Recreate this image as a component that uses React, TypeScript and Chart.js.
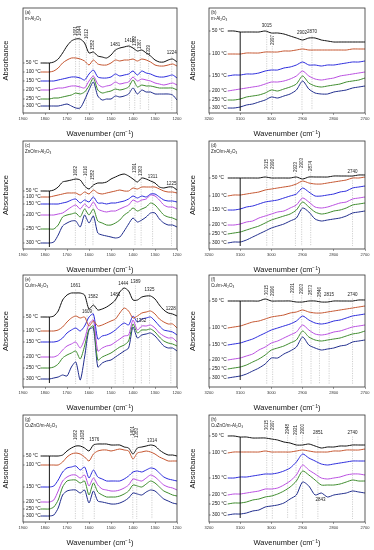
import React, { useEffect, useRef } from "react";
import { Chart, registerables } from "chart.js";
Chart.register(...registerables);

const FAMILY = 'Arial, "Liberation Sans", Helvetica, sans-serif';

// ---------- data ----------
const temps = ["50 °C", "100 °C", "150 °C", "200 °C", "250 °C", "300 °C"];
const colors = ["#111111", "#c4552f", "#2b2bdc", "#b94ee0", "#3d8b2c", "#1f2c8c"];

const wnLow = [1820, 1800, 1780, 1760, 1740, 1720, 1700, 1680, 1660, 1640, 1620, 1600, 1580, 1560, 1540, 1520,
  1500, 1480, 1460, 1440, 1420, 1400, 1380, 1360, 1340, 1320, 1300, 1280, 1260, 1240, 1220, 1200];
const wnHigh = [3140, 3120, 3100, 3080, 3060, 3040, 3020, 3000, 2980, 2960, 2940, 2920, 2900, 2880, 2860, 2840,
  2820, 2800, 2780, 2760, 2740, 2720, 2700];

const seriesA = [
  [50, 50, 50, 51, 54, 60, 67, 72, 74, 74, 70, 60, 61, 57, 56, 55, 58, 63, 65, 66, 67, 65, 62, 63, 60, 57, 53, 51, 51, 53, 54, 51],
  [41, 41, 41, 42, 45, 50, 53, 55, 55, 54, 52, 48, 53, 49, 48, 48, 50, 53, 52, 53, 53, 54, 52, 54, 53, 51, 48, 47, 47, 48, 49, 47],
  [32, 32, 32, 32, 33, 34, 35, 36, 36, 35, 33, 39, 43, 36, 35, 35, 36, 39, 37, 38, 39, 42, 38, 42, 40, 39, 37, 36, 36, 37, 38, 35],
  [23, 23, 23, 24, 25, 25, 26, 27, 27, 26, 25, 32, 37, 29, 26, 27, 28, 31, 29, 30, 31, 36, 32, 34, 33, 32, 30, 29, 28, 29, 30, 28],
  [14, 14, 14, 15, 15, 16, 17, 18, 20, 19, 21, 27, 35, 23, 20, 21, 22, 24, 23, 24, 26, 33, 26, 28, 27, 27, 26, 25, 25, 25, 25, 23],
  [7, 7, 7, 7, 7, 8, 9, 7, 5, 5, 13, 23, 31, 17, 13, 14, 14, 17, 16, 17, 19, 25, 19, 23, 21, 21, 19, 19, 19, 19, 18, 13],
];
const seriesB = [
  [82, 82, 81, 81, 81, 81, 82, 80, 80, 79, 77, 75, 73, 75, 75, 73, 72, 71, 71, 71, 71, 71, 71],
  [59, 59, 59, 60, 60, 60, 61, 61, 61, 62, 62, 63, 64, 63, 63, 63, 63, 63, 63, 63, 64, 64, 64],
  [37, 38, 38, 39, 39, 40, 42, 43, 43, 45, 46, 48, 51, 48, 48, 47, 48, 48, 49, 50, 51, 51, 52],
  [22, 23, 24, 25, 26, 27, 29, 31, 31, 32, 34, 37, 42, 37, 34, 33, 34, 35, 37, 38, 39, 40, 41],
  [13, 13, 14, 16, 17, 18, 20, 23, 22, 24, 26, 29, 37, 30, 27, 26, 27, 28, 29, 31, 32, 33, 35],
  [5, 5, 6, 8, 9, 11, 13, 16, 15, 17, 19, 23, 32, 24, 20, 19, 19, 21, 22, 23, 25, 26, 27],
];
const seriesC = [
  [58, 58, 58, 59, 62, 67, 68, 69, 70, 69, 63, 60, 64, 66, 66, 67, 70, 72, 74, 75, 73, 70, 67, 71, 70, 68, 66, 62, 61, 62, 62, 59],
  [52, 52, 52, 53, 54, 55, 56, 56, 56, 54, 57, 55, 59, 56, 55, 56, 57, 58, 59, 58, 58, 61, 60, 62, 62, 62, 62, 60, 58, 57, 57, 56],
  [45, 45, 45, 45, 45, 46, 47, 49, 50, 46, 49, 47, 52, 46, 46, 45, 46, 46, 47, 48, 50, 53, 51, 53, 52, 55, 55, 52, 49, 48, 48, 47],
  [34, 34, 34, 34, 35, 36, 39, 42, 44, 40, 45, 41, 47, 40, 38, 37, 38, 38, 40, 42, 44, 49, 47, 49, 50, 54, 53, 49, 44, 42, 42, 40],
  [20, 20, 20, 20, 24, 32, 34, 35, 36, 32, 40, 34, 40, 28, 26, 24, 24, 26, 29, 34, 37, 41, 38, 40, 42, 46, 44, 39, 34, 32, 31, 29],
  [6, 6, 6, 7, 14, 23, 26, 28, 28, 22, 34, 26, 33, 16, 14, 13, 12, 11, 12, 18, 25, 31, 27, 29, 32, 36, 36, 30, 26, 24, 24, 22],
];
const seriesD = [
  [71, 71, 71, 71, 71, 71, 72, 71, 71, 71, 71, 72, 70, 72, 72, 72, 72, 73, 73, 73, 73, 74, 74],
  [53, 54, 54, 55, 56, 57, 59, 60, 61, 62, 63, 65, 68, 66, 65, 65, 66, 67, 68, 69, 71, 71, 72],
  [39, 39, 40, 42, 43, 45, 47, 48, 49, 51, 53, 55, 61, 57, 53, 53, 54, 55, 57, 58, 61, 62, 63],
  [24, 24, 25, 27, 28, 31, 33, 35, 37, 38, 41, 44, 51, 47, 42, 41, 42, 44, 46, 47, 50, 51, 52],
  [15, 16, 17, 19, 21, 23, 26, 29, 31, 33, 35, 39, 47, 42, 37, 35, 36, 38, 39, 41, 44, 45, 46],
  [6, 7, 7, 9, 12, 15, 18, 21, 23, 25, 28, 31, 41, 37, 30, 28, 29, 30, 31, 33, 36, 37, 38],
];
const seriesE = [
  [70, 70, 70, 71, 76, 87, 92, 94, 94, 94, 92, 78, 82, 77, 78, 80, 83, 87, 95, 99, 96, 87, 87, 90, 91, 91, 88, 82, 77, 74, 73, 71],
  [56, 56, 56, 56, 57, 60, 65, 69, 71, 69, 70, 61, 66, 61, 62, 64, 66, 68, 74, 79, 76, 69, 71, 74, 75, 76, 73, 68, 65, 63, 63, 59],
  [45, 45, 45, 45, 46, 49, 54, 57, 59, 56, 61, 70, 73, 48, 51, 52, 54, 57, 61, 64, 62, 71, 65, 68, 69, 70, 66, 61, 57, 56, 55, 52],
  [30, 30, 30, 30, 32, 37, 41, 43, 45, 39, 48, 63, 67, 36, 39, 41, 42, 45, 48, 51, 52, 67, 57, 61, 61, 62, 59, 54, 51, 49, 49, 45],
  [19, 19, 19, 20, 23, 29, 32, 34, 36, 28, 41, 58, 61, 27, 30, 32, 34, 37, 40, 42, 46, 63, 54, 57, 57, 58, 55, 50, 46, 44, 43, 41],
  [8, 8, 8, 9, 10, 12, 11, 20, 25, 7, 30, 57, 59, 20, 24, 26, 27, 30, 33, 36, 39, 60, 49, 52, 53, 54, 51, 46, 41, 39, 39, 36],
];
const seriesF = [
  [86, 86, 86, 86, 86, 86, 88, 86, 86, 86, 86, 85, 85, 86, 86, 85, 85, 86, 86, 86, 86, 87, 87],
  [59, 60, 61, 63, 65, 66, 68, 70, 71, 72, 74, 75, 77, 75, 74, 74, 75, 76, 77, 78, 79, 80, 81],
  [42, 43, 44, 46, 48, 51, 54, 57, 59, 61, 63, 66, 71, 67, 64, 63, 64, 66, 67, 69, 71, 72, 73],
  [27, 28, 29, 31, 33, 37, 40, 44, 46, 49, 52, 55, 62, 57, 53, 52, 53, 55, 56, 58, 60, 61, 62],
  [18, 19, 20, 22, 25, 28, 32, 37, 39, 41, 44, 47, 56, 50, 47, 46, 47, 48, 49, 51, 53, 54, 56],
  [9, 10, 11, 13, 16, 19, 23, 29, 29, 33, 36, 40, 50, 42, 39, 37, 38, 39, 41, 42, 45, 46, 47],
];
const seriesG = [
  [66, 66, 66, 66, 66, 67, 71, 74, 76, 76, 74, 71, 77, 78, 78, 78, 77, 77, 77, 75, 74, 68, 74, 75, 76, 77, 76, 72, 69, 67, 67, 66],
  [57, 57, 57, 57, 57, 60, 65, 68, 69, 68, 65, 61, 68, 71, 72, 72, 71, 72, 73, 72, 71, 63, 69, 70, 71, 70, 68, 65, 63, 61, 61, 61],
  [35, 35, 35, 36, 42, 50, 54, 55, 56, 52, 55, 44, 52, 45, 43, 41, 41, 41, 41, 43, 46, 50, 51, 50, 52, 54, 53, 49, 45, 43, 42, 41],
  [20, 20, 20, 22, 31, 41, 45, 47, 47, 44, 47, 36, 44, 37, 33, 32, 31, 31, 32, 34, 37, 43, 42, 41, 44, 47, 45, 41, 37, 35, 34, 32],
  [13, 13, 13, 15, 22, 35, 41, 42, 42, 39, 41, 27, 39, 30, 27, 25, 25, 25, 26, 28, 31, 37, 36, 35, 38, 41, 39, 35, 31, 29, 27, 26],
  [6, 6, 6, 7, 14, 27, 31, 32, 32, 29, 32, 19, 31, 21, 20, 19, 18, 18, 19, 21, 24, 29, 28, 27, 30, 32, 31, 27, 23, 21, 19, 18],
];
const seriesH = [
  [86, 86, 85, 85, 84, 84, 84, 83, 82, 80, 79, 77, 77, 78, 76, 74, 75, 75, 76, 76, 77, 77, 77],
  [69, 70, 70, 70, 70, 70, 71, 70, 70, 70, 70, 71, 72, 71, 70, 70, 70, 71, 71, 72, 72, 72, 73],
  [44, 44, 45, 45, 46, 47, 48, 48, 49, 51, 54, 60, 68, 64, 61, 58, 57, 58, 59, 60, 61, 61, 61],
  [27, 28, 28, 29, 30, 31, 33, 33, 34, 37, 41, 47, 57, 52, 48, 44, 43, 44, 45, 47, 48, 48, 47],
  [18, 19, 19, 20, 22, 23, 25, 26, 28, 31, 35, 41, 51, 47, 42, 37, 37, 37, 38, 40, 42, 41, 41],
  [7, 8, 8, 9, 11, 12, 15, 16, 17, 19, 23, 27, 40, 36, 27, 29, 25, 27, 28, 29, 31, 30, 29],
];

// peak annotations: [wavenumber, orientation, label height in absorbance units]
const peaksA = [[1661, "v", 77], [1644, "v", 77], [1612, "v", 74], [1582, "v", 63], [1481, "h", 68], [1416, "h", 72],
  [1392, "v", 67], [1367, "v", 64], [1329, "v", 58], [1224, "h", 60]];
const peaksB = [[3015, "h", 87], [2997, "v", 68], [2902, "h", 80], [2870, "h", 81]];
const peaksC = [[1662, "v", 73], [1616, "v", 73], [1582, "v", 69], [1391, "v", 76], [1363, "v", 73], [1311, "h", 72], [1225, "h", 65]];
const peaksD = [[3015, "v", 80], [2996, "v", 80], [2923, "v", 77], [2903, "v", 81], [2874, "v", 78], [2740, "h", 77]];
const peaksE = [[1661, "h", 101], [1609, "h", 75], [1582, "h", 90], [1481, "h", 92], [1444, "h", 103], [1389, "h", 105],
  [1362, "h", 66], [1325, "h", 97], [1228, "h", 78]];
const peaksF = [[3015, "v", 92], [2996, "v", 91], [2931, "v", 94], [2903, "v", 93], [2873, "v", 92], [2846, "v", 90],
  [2815, "h", 92], [2740, "h", 92]];
const peaksG = [[1662, "v", 82], [1628, "v", 82], [1576, "h", 82], [1401, "v", 86], [1383, "v", 84], [1314, "h", 81]];
const peaksH = [[3015, "v", 92], [2997, "v", 92], [2948, "v", 88], [2921, "v", 87], [2900, "v", 88], [2851, "h", 89],
  [2740, "h", 89], [2843, "t", 22]];

// ---------- layout ----------
const COLS = [
  { left: 0, w: 187, boxLeft: 23, boxRight: 177 },
  { left: 187, w: 187, boxLeft: 22, boxRight: 178 },
];
const ROWS = [
  { boxTop: 8, boxH: 105 },
  { boxTop: 141, boxH: 108 },
  { boxTop: 275, boxH: 112 },
  { boxTop: 415, boxH: 107 },
];
const PADT = 4;
const XH = 28;

const panels = [
  { tag: "(a)", name: "m-Al₂O₃", col: 0, row: 0, xs: wnLow, series: seriesA, peaks: peaksA },
  { tag: "(b)", name: "m-Al₂O₃", col: 1, row: 0, xs: wnHigh, series: seriesB, peaks: peaksB },
  { tag: "(c)", name: "ZnO/m-Al₂O₃", col: 0, row: 1, xs: wnLow, series: seriesC, peaks: peaksC },
  { tag: "(d)", name: "ZnO/m-Al₂O₃", col: 1, row: 1, xs: wnHigh, series: seriesD, peaks: peaksD },
  { tag: "(e)", name: "Cu/m-Al₂O₃", col: 0, row: 2, xs: wnLow, series: seriesE, peaks: peaksE },
  { tag: "(f)", name: "Cu/m-Al₂O₃", col: 1, row: 2, xs: wnHigh, series: seriesF, peaks: peaksF },
  { tag: "(g)", name: "CuZnO/m-Al₂O₃", col: 0, row: 3, xs: wnLow, series: seriesG, peaks: peaksG },
  { tag: "(h)", name: "CuZnO/m-Al₂O₃", col: 1, row: 3, xs: wnHigh, series: seriesH, peaks: peaksH },
];

function geom(p: any) {
  const c = COLS[p.col];
  const r = ROWS[p.row];
  return { left: c.left, top: r.boxTop - PADT, w: c.w, h: r.boxH + PADT + XH, c, r };
}

function makePanel(canvas: HTMLCanvasElement, p: any) {
  const g = geom(p);
  const low = p.xs === wnLow;
  const xmin = low ? 1200 : 2700;
  const xmax = low ? 1900 : 3200;
  const markX = low ? 1780 : 3100;
  const datasets = p.series.map((vals: number[], i: number) => ({
    label: temps[i],
    data: p.xs.map((x: number, j: number) => ({ x, y: vals[j] })),
    borderColor: colors[i],
    borderWidth: 1,
    pointRadius: 0,
    tension: 0.25,
    fill: false,
  }));

  const decor = {
    id: "decor",
    beforeDatasetsDraw(chart: any) {
      const { ctx, scales } = chart;
      const x = scales.x, y = scales.y;
      ctx.save();
      ctx.strokeStyle = "#a0a0a0";
      ctx.lineWidth = 0.5;
      ctx.setLineDash([1.2, 1.2]);
      for (const [wn, kind, ly] of p.peaks) {
        if (kind === "t") continue;
        const px = x.getPixelForValue(wn);
        const py = y.getPixelForValue(ly);
        ctx.beginPath();
        ctx.moveTo(px, kind === "v" ? py + 1 : py + 3.5);
        ctx.lineTo(px, y.getPixelForValue(3));
        ctx.stroke();
      }
      ctx.restore();
    },
    afterDatasetsDraw(chart: any) {
      const { ctx, chartArea: ca, scales } = chart;
      const x = scales.x, y = scales.y;
      ctx.save();
      ctx.strokeStyle = "#333";
      ctx.lineWidth = 0.8;
      ctx.strokeRect(ca.left, ca.top, ca.right - ca.left, ca.bottom - ca.top);

      // marker line
      const j = p.xs.indexOf(markX);
      const mx = x.getPixelForValue(markX);
      ctx.strokeStyle = "#000";
      ctx.lineWidth = 0.9;
      ctx.beginPath();
      ctx.moveTo(mx, y.getPixelForValue(p.series[0][j]));
      ctx.lineTo(mx, y.getPixelForValue(p.series[5][j] - 4));
      ctx.stroke();

      // peak labels
      ctx.fillStyle = "#222";
      ctx.font = `4.5px ${FAMILY}`;
      for (const [wn, kind, ly] of p.peaks) {
        const px = x.getPixelForValue(wn);
        const py = y.getPixelForValue(ly);
        if (kind === "v") {
          ctx.save();
          ctx.translate(px, py);
          ctx.rotate(-Math.PI / 2);
          ctx.textAlign = "left";
          ctx.textBaseline = "middle";
          ctx.fillText(String(wn), 0, 0);
          ctx.restore();
        } else {
          ctx.textAlign = "center";
          ctx.textBaseline = "middle";
          ctx.fillText(String(wn), px, py);
        }
      }

      // temperature labels
      ctx.font = `4.8px ${FAMILY}`;
      ctx.textAlign = "left";
      ctx.textBaseline = "middle";
      ctx.strokeStyle = "#333";
      ctx.lineWidth = 0.6;
      p.series.forEach((vals: number[], i: number) => {
        const ty = y.getPixelForValue(vals[0]);
        ctx.fillStyle = "#222";
        ctx.fillText(temps[i], ca.left + 3, ty);
        ctx.beginPath();
        ctx.moveTo(ca.left, ty);
        ctx.lineTo(ca.left + 1.6, ty);
        ctx.stroke();
      });

      // header
      ctx.fillStyle = "#222";
      ctx.font = `4.5px ${FAMILY}`;
      ctx.fillText(p.tag, ca.left + 2, ca.top + 5);
      ctx.fillText(p.name, ca.left + 2, ca.top + 11);
      ctx.restore();
    },
  };

  return new Chart(canvas, {
    type: "line",
    data: { datasets },
    options: {
      animation: false,
      responsive: false,
      maintainAspectRatio: false,
      layout: { padding: { top: PADT, right: g.w - g.c.boxRight, left: 0, bottom: 0 } },
      plugins: { legend: { display: false }, tooltip: { enabled: false } },
      scales: {
        x: {
          type: "linear",
          reverse: true,
          min: xmin,
          max: xmax,
          afterFit: (s: any) => { s.height = XH; },
          ticks: {
            stepSize: 100, autoSkip: false, maxRotation: 0, padding: 1, color: "#333",
            font: { size: 4, family: FAMILY },
            callback: (v: any) => String(v),
          },
          grid: { drawOnChartArea: false, tickLength: 2, color: "#444", lineWidth: 0.5 },
          border: { display: false },
          title: { display: true, text: "Wavenumber (cm⁻¹)", color: "#111", font: { size: 7.5, family: FAMILY }, padding: { top: 0, bottom: 3 } },
        },
        y: {
          min: 0,
          max: g.r.boxH,
          afterFit: (s: any) => { s.width = g.c.boxLeft; },
          ticks: { display: false },
          grid: { display: false },
          border: { display: false },
          title: { display: true, text: "Absorbance", color: "#111", font: { size: 7.5, family: FAMILY }, padding: { top: 1, bottom: 0 } },
        },
      },
    } as any,
    plugins: [decor],
  });
}

export default function App() {
  const refs = useRef<(HTMLCanvasElement | null)[]>([]);
  useEffect(() => {
    const charts = panels.map((p, i) => makePanel(refs.current[i] as HTMLCanvasElement, p));
    return () => charts.forEach((c) => c.destroy());
  }, []);
  return (
    <div style={{ position: "fixed", left: 0, top: 0, width: 374, height: 550, background: "#fff", overflow: "hidden" }}>
      {panels.map((p, i) => {
        const g = geom(p);
        return (
          <canvas
            key={i}
            ref={(el) => { refs.current[i] = el; }}
            width={g.w}
            height={g.h}
            style={{ position: "absolute", left: g.left, top: g.top, width: g.w, height: g.h }}
          />
        );
      })}
    </div>
  );
}
